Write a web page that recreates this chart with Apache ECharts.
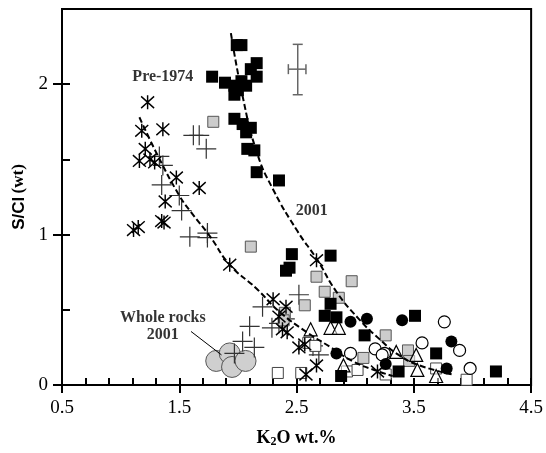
<!DOCTYPE html>
<html>
<head>
<meta charset="utf-8">
<script src="https://cdn.jsdelivr.net/npm/echarts@6/dist/echarts.min.js"></script>
<style>
html,body{margin:0;padding:0;background:#fff;}
#chart{width:546px;height:453px;}
</style>
</head>
<body>
<div id="chart"></div>
<script>
// ---- data ----
const xTicks = [0.5, 1.5, 2.5, 3.5, 4.5];
const yTicks = [0, 1, 2];

const blackSquares = [
  [1.99,2.26],[2.03,2.26],[1.78,2.05],[1.89,2.01],[1.97,1.99],[2.00,1.96],[2.07,1.99],
  [2.11,2.10],[2.16,2.14],[2.16,2.05],[2.03,2.02],[1.97,1.93],
  [1.97,1.77],[2.04,1.735],[2.11,1.71],[2.07,1.68],[2.08,1.57],[2.14,1.56],[2.16,1.415],[2.35,1.36],
  [2.41,0.76],[2.44,0.78],[2.46,0.87],[2.79,0.86],[2.79,0.54],[2.74,0.46],[2.84,0.45],
  [3.08,0.33],[3.51,0.46],[3.69,0.21],[4.20,0.09],[3.37,0.09],[2.88,0.06]
];
const greySquares = [
  [1.79,1.75],[2.11,0.92],[2.67,0.72],[2.97,0.69],[2.74,0.62],[2.86,0.58],[2.57,0.53],
  [2.40,0.48],[2.39,0.43],[3.26,0.33],[3.45,0.23],[3.07,0.18],[3.46,0.16]
];
const openSquares = [
  [2.34,0.08],[2.54,0.08],[2.93,0.09],[3.02,0.10],[3.26,0.07],[3.69,0.11],[3.95,0.035],
  [2.60,0.28],[2.66,0.26]
];
const blackCircles = [
  [2.96,0.42],[3.10,0.44],[3.40,0.43],[2.84,0.21],[3.26,0.14],[3.82,0.29],[3.78,0.11]
];
const openCircles = [
  [3.76,0.42],[3.57,0.28],[3.89,0.23],[3.17,0.24],[3.25,0.21],[3.98,0.11],[2.96,0.21],[3.23,0.20]
];
const openTriangles = [
  [2.79,0.38],[2.86,0.38],[2.62,0.37],[3.35,0.22],[3.52,0.20],[3.53,0.10],[3.69,0.06],[2.90,0.13]
];
const asterisks = [
  [1.23,1.88],[1.18,1.69],[1.36,1.70],[1.21,1.57],[1.16,1.49],[1.25,1.50],[1.29,1.48],
  [1.475,1.38],[1.67,1.31],[1.38,1.22],[1.35,1.09],[1.37,1.08],[1.11,1.03],[1.15,1.05],
  [1.93,0.80],[2.30,0.57],[2.41,0.52],[2.35,0.455],[2.38,0.37],[2.42,0.35],[2.67,0.83],
  [2.52,0.25],[2.57,0.27],[2.67,0.13],[2.58,0.07],[3.19,0.09]
];
const plusSigns = [
  [1.62,1.66],[1.67,1.66],[1.73,1.57],[1.33,1.52],[1.36,1.46],[1.35,1.33],[1.50,1.26],
  [1.52,1.16],[1.59,0.985],[1.74,0.98],[1.74,1.01],
  [2.52,0.60],[2.21,0.52],[2.10,0.39],[2.04,0.29],[2.14,0.25],[1.97,0.21],[2.29,0.38],
  [2.35,0.41],[2.64,0.26],[2.69,0.20],[2.40,0.44]
];
const wholeRocks = [[1.815,0.16],[1.93,0.21],[1.95,0.12],[2.065,0.16]];

// dashed trend curves
const curve2001 = [
  [1.94,2.34],[2.04,1.92],[2.16,1.55],[2.30,1.30],[2.51,1.02],[2.67,0.84],[2.84,0.62],
  [3.03,0.44],[3.20,0.31],[3.37,0.20],[3.55,0.13],[3.83,0.07]
];
const curvePre1974 = [
  [1.16,1.78],[1.32,1.52],[1.50,1.26],[1.60,1.15],[1.76,0.99],[1.93,0.80],[2.16,0.64],
  [2.35,0.49],[2.58,0.355],[2.78,0.256],[2.98,0.157],[3.20,0.09],[3.32,0.06]
];

// error bar: [x, y, xLow, xHigh, yLow, yHigh]
const errorBar = [[2.51, 2.10, 2.43, 2.58, 1.93, 2.265]];

// annotations
const labelsData = [
  {value:[1.36,2.05], name:'Pre-1974'},
  {value:[2.63,1.155], name:'2001'},
  {value:[1.36,0.39], name:'Whole rocks\n2001'}
];
const leaderLine = [[1.60,0.356],[1.86,0.20]];

// ---- chart ----
const chart = echarts.init(document.getElementById('chart'), null, {renderer:'canvas'});
const serif = 'Liberation Serif';
const asteriskPath = 'path://M0,0L10,10M10,0L0,10M5,-1L5,11';
const plusPath = 'path://M0,5L10,5M5,0L5,10';

const option = {
  backgroundColor:'#fff',
  animation:false,
  grid:{left:62, right:14, top:9, bottom:66, show:true, borderColor:'#000', borderWidth:2, backgroundColor:'transparent'},
  xAxis:[{
    type:'value', min:0.5, max:4.5, interval:0.2, position:'bottom',
    axisLine:{show:true, onZero:false, lineStyle:{color:'#000', width:2}},
    axisTick:{show:true, inside:true, length:7, lineStyle:{color:'#000', width:2}},
    axisLabel:{customValues:xTicks, formatter:v=>v.toFixed(1), color:'#000', fontFamily:serif, fontSize:19, margin:14},
    splitLine:{show:false},
    name:'{a|K}{s|2}{a|O wt.%}', nameLocation:'middle', nameGap:43,
    nameTextStyle:{rich:{
      a:{fontFamily:serif, fontWeight:'bold', fontSize:18, color:'#000'},
      s:{fontFamily:serif, fontWeight:'bold', fontSize:12, color:'#000', verticalAlign:'bottom', padding:[8,0,0,0]}
    }}
  },{
    type:'value', min:0.5, max:4.5, position:'bottom',
    axisLine:{show:false},
    axisTick:{show:true, inside:false, customValues:xTicks, length:8, lineStyle:{color:'#000', width:2}},
    axisLabel:{show:false}, splitLine:{show:false}
  }],
  yAxis:[{
    type:'value', min:0, max:2.5, interval:0.5, position:'left',
    axisLine:{show:true, onZero:false, lineStyle:{color:'#000', width:2}},
    axisTick:{show:true, inside:true, length:8, lineStyle:{color:'#000', width:2}},
    axisLabel:{customValues:yTicks, formatter:v=>String(v), color:'#000', fontFamily:serif, fontSize:19, margin:14},
    splitLine:{show:false},
    name:'{a|S/Cl} {b|(wt)}', nameLocation:'middle', nameGap:34, nameRotate:90,
    nameTextStyle:{rich:{
      a:{fontFamily:'Liberation Sans', fontWeight:'bold', fontSize:17, color:'#000'},
      b:{fontFamily:serif, fontWeight:'bold', fontSize:17, color:'#000'}
    }}
  },{
    type:'value', min:0, max:2.5, position:'left',
    axisLine:{show:false},
    axisTick:{show:true, inside:false, customValues:yTicks, length:9, lineStyle:{color:'#000', width:2}},
    axisLabel:{show:false}, splitLine:{show:false}
  }],
  series:[
    {type:'line', data:curvePre1974, smooth:true, symbol:'none', z:3,
     lineStyle:{color:'#000', width:2, type:[6,3]}},
    {type:'line', data:curve2001, smooth:true, symbol:'none', z:3,
     lineStyle:{color:'#000', width:2, type:[6,3]}},
    {type:'scatter', data:wholeRocks, symbol:'circle', symbolSize:21, z:2,
     itemStyle:{color:'#cfcfcf', borderColor:'#555', borderWidth:1, opacity:1}},
    {type:'scatter', data:plusSigns, symbol:plusPath, symbolSize:20, z:2,
     itemStyle:{color:'transparent', borderColor:'#333', borderWidth:1.2, opacity:1}},
    {type:'scatter', data:greySquares, symbol:'rect', symbolSize:11, z:2,
     itemStyle:{color:'#cccccc', borderColor:'#555', borderWidth:1, opacity:1}},
    {type:'scatter', data:openSquares, symbol:'rect', symbolSize:11, z:2,
     itemStyle:{color:'#fff', borderColor:'#444', borderWidth:1, opacity:1}},
    {type:'scatter', data:openCircles, symbol:'circle', symbolSize:12, z:2,
     itemStyle:{color:'#fff', borderColor:'#000', borderWidth:1.2, opacity:1}},
    {type:'scatter', data:openTriangles, symbol:'triangle', symbolSize:13, z:2,
     itemStyle:{color:'rgba(255,255,255,0.5)', borderColor:'#000', borderWidth:1.2, opacity:1}},
    {type:'scatter', data:blackCircles, symbol:'circle', symbolSize:12, z:2,
     itemStyle:{color:'#000', opacity:1}},
    {type:'scatter', data:blackSquares, symbol:'rect', symbolSize:12, z:2,
     itemStyle:{color:'#000', opacity:1}},
    {type:'scatter', data:asterisks, symbol:asteriskPath, symbolSize:[13,14], z:4,
     itemStyle:{color:'transparent', borderColor:'#000', borderWidth:1.5, opacity:1}},
    {type:'custom', data:errorBar, z:3,
     renderItem:function(params, api){
       const c = api.coord([api.value(0), api.value(1)]);
       const l = api.coord([api.value(2), api.value(1)]);
       const r = api.coord([api.value(3), api.value(1)]);
       const b = api.coord([api.value(0), api.value(4)]);
       const t = api.coord([api.value(0), api.value(5)]);
       const cap = 5;
       const st = {stroke:'#666', lineWidth:1.5};
       return {type:'group', children:[
         {type:'line', shape:{x1:l[0], y1:c[1], x2:r[0], y2:c[1]}, style:st},
         {type:'line', shape:{x1:c[0], y1:t[1], x2:c[0], y2:b[1]}, style:st},
         {type:'line', shape:{x1:l[0], y1:c[1]-cap, x2:l[0], y2:c[1]+cap}, style:st},
         {type:'line', shape:{x1:r[0], y1:c[1]-cap, x2:r[0], y2:c[1]+cap}, style:st},
         {type:'line', shape:{x1:c[0]-cap, y1:t[1], x2:c[0]+cap, y2:t[1]}, style:st},
         {type:'line', shape:{x1:c[0]-cap, y1:b[1], x2:c[0]+cap, y2:b[1]}, style:st}
       ]};
     }},
    {type:'line', data:leaderLine, symbol:'none', z:3, lineStyle:{color:'#000', width:1}},
    {type:'scatter', data:labelsData, symbolSize:1, z:5,
     itemStyle:{color:'transparent'},
     label:{show:true, position:'inside', formatter:p=>p.name, color:'#000',
            fontFamily:serif, fontWeight:'bold', fontSize:16, lineHeight:17, align:'center', verticalAlign:'middle'}}
  ]
};
chart.setOption(option);
</script>
</body>
</html>
